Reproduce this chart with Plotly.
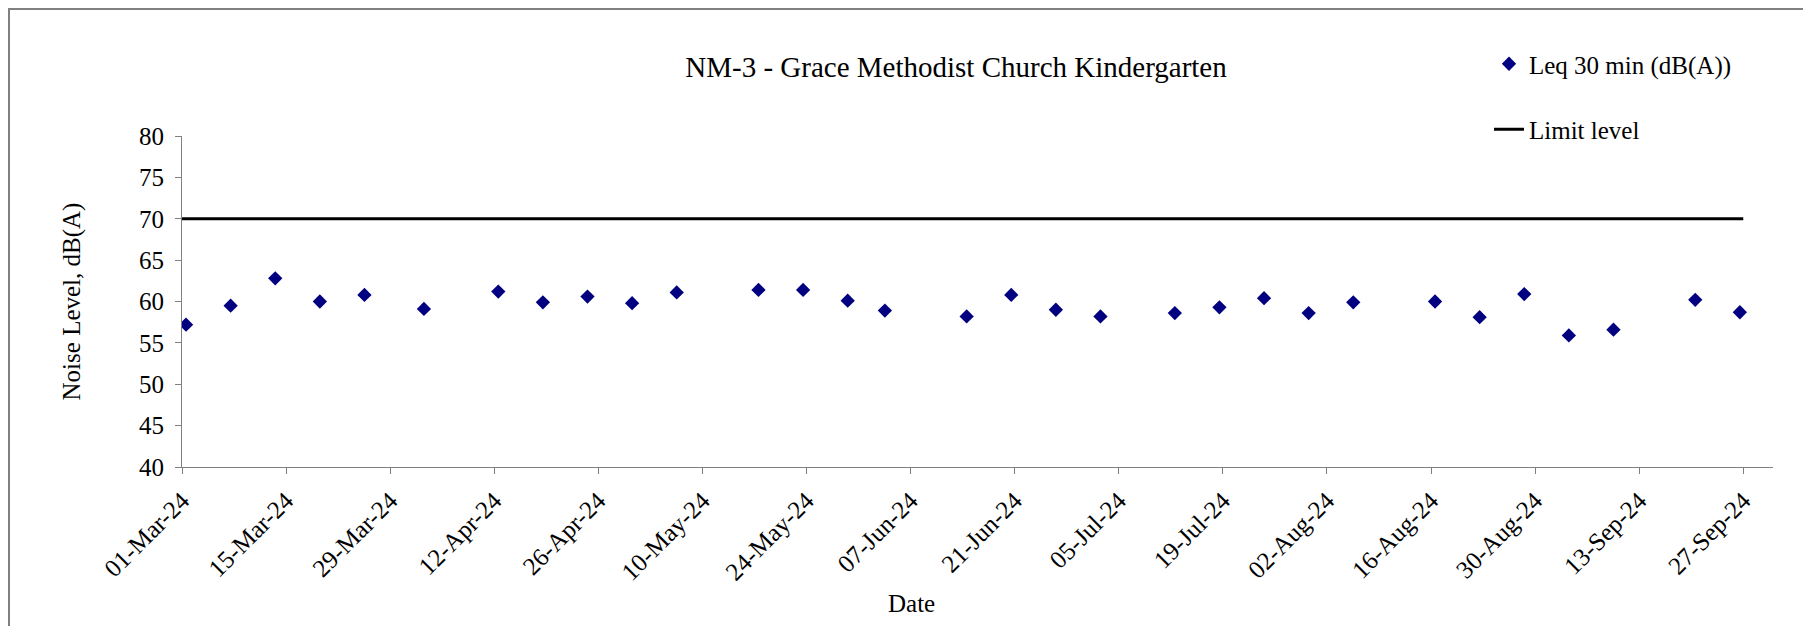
"""NM-3 noise monitoring chart."""
import plotly.graph_objects as go

FONT = "Liberation Serif, Times New Roman, serif"
NAVY = "#000080"
AXIS_GREY = "#808080"

sample_dates = [
    "2024-03-01", "2024-03-07", "2024-03-13", "2024-03-19", "2024-03-25",
    "2024-04-02", "2024-04-12", "2024-04-18", "2024-04-24", "2024-04-30",
    "2024-05-06", "2024-05-17", "2024-05-23", "2024-05-29", "2024-06-03",
    "2024-06-14", "2024-06-20", "2024-06-26", "2024-07-02", "2024-07-12",
    "2024-07-18", "2024-07-24", "2024-07-30", "2024-08-05", "2024-08-16",
    "2024-08-22", "2024-08-28", "2024-09-03", "2024-09-09", "2024-09-20",
    "2024-09-26",
]
sample_time = "13:00"
leq_values = [
    57.2, 59.5, 62.8, 60.0, 60.8,
    59.1, 61.2, 59.9, 60.6, 59.8,
    61.1, 61.4, 61.4, 60.1, 58.9,
    58.2, 60.8, 59.0, 58.2, 58.6,
    59.3, 60.4, 58.6, 59.9, 60.0,
    58.1, 60.9, 55.9, 56.6, 60.2,
    58.7,
]
limit_dates = ["2024-03-01", "2024-09-27"]
limit_values = [70, 70]

# the page body adds an 8px margin, so the figure is laid out 8px smaller
W, H = 1803, 618
PLOT_L, PLOT_R, PLOT_T, PLOT_B = 174, 1765, 128, 459
PW, PH = PLOT_R - PLOT_L, PLOT_B - PLOT_T


def px_x(x):
    return (x - PLOT_L) / PW


def px_y(y):
    return (PLOT_B - y) / PH


fig = go.Figure()
fig.add_trace(
    go.Scatter(
        x=[f"{d} {sample_time}" for d in sample_dates],
        y=leq_values,
        mode="markers",
        marker=dict(symbol="diamond", size=11, color=NAVY),
        name="Leq 30 min (dB(A))",
        legendgroup="leq",
    )
)
fig.add_trace(
    go.Scatter(
        x=limit_dates,
        y=limit_values,
        mode="lines",
        line=dict(color="black", width=3),
        name="Limit level",
        legendgroup="limit",
    )
)

# outer chart frame (only left and top edges fall inside the picture)
fig.add_shape(
    type="rect", xref="paper", yref="paper",
    x0=px_x(1), x1=1.2, y0=-1.0, y1=px_y(1),
    line=dict(color=AXIS_GREY, width=2), layer="below",
)

fig.add_annotation(
    text="Date", xref="paper", yref="paper",
    x=px_x(903), y=px_y(595),
    xanchor="center", yanchor="middle", showarrow=False,
    font=dict(family=FONT, size=25, color="black"),
)

fig.update_layout(
    width=W,
    height=H,
    margin=dict(l=PLOT_L, r=W - PLOT_R, t=PLOT_T, b=H - PLOT_B, autoexpand=False),
    paper_bgcolor="white",
    plot_bgcolor="white",
    font=dict(family=FONT, size=25, color="black"),
    title=dict(
        text="NM-3 - Grace Methodist Church Kindergarten",
        font=dict(family=FONT, size=29, color="black"),
        xref="paper", x=px_x(948), xanchor="center",
        yref="container", y=1 - 59 / H, yanchor="middle",
    ),
    legend=dict(
        xref="container", yref="container",
        x=(1521 - 40) / W, y=1 - 33 / H,
        xanchor="left", yanchor="top",
        bgcolor="rgba(0,0,0,0)",
        font=dict(family=FONT, size=25, color="black"),
        traceorder="grouped", tracegroupgap=30,
    ),
    xaxis=dict(
        type="date",
        range=["2024-03-01", "2024-10-01"],
        tick0="2024-03-01",
        dtick=14 * 86400000,
        tickformat="%d-%b-%y",
        tickangle=-45,
        showgrid=False, zeroline=False,
        showline=True, linecolor=AXIS_GREY, linewidth=1,
        ticks="outside", ticklen=6, tickcolor=AXIS_GREY,
        ticklabelstandoff=2,
        tickfont=dict(family=FONT, size=25, color="black"),
    ),
    yaxis=dict(
        range=[40, 80],
        dtick=5,
        showgrid=False, zeroline=False,
        showline=True, linecolor=AXIS_GREY, linewidth=1,
        ticks="outside", ticklen=6, tickcolor=AXIS_GREY,
        ticklabelstandoff=6,
        tickfont=dict(family=FONT, size=25, color="black"),
        title=dict(text="Noise Level, dB(A)", standoff=51,
                   font=dict(family=FONT, size=25, color="black")),
    ),
)

fig.write_html("out.html")
